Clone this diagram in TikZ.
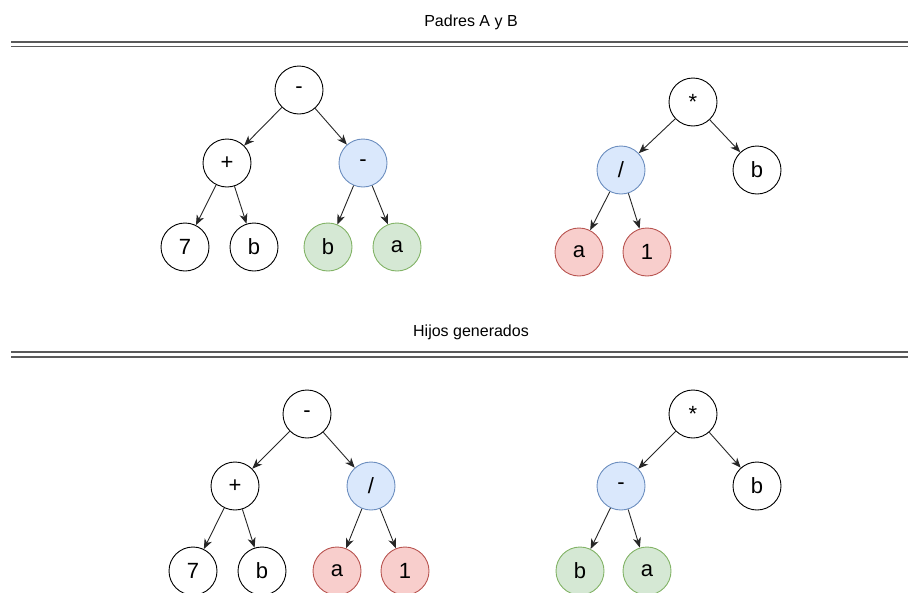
\documentclass[tikz,border=0pt]{standalone}
\usepackage{fontspec}
\setmainfont{Liberation Sans}
\usetikzlibrary{arrows.meta}
\definecolor{bluef}{HTML}{DAE8FC}
\definecolor{blued}{HTML}{6C8EBF}
\definecolor{greenf}{HTML}{D5E8D4}
\definecolor{greend}{HTML}{82B366}
\definecolor{redf}{HTML}{F8CECC}
\definecolor{redd}{HTML}{B85450}
\definecolor{sepc}{HTML}{5A5A5A}
\begin{document}
\begin{tikzpicture}[x=1pt,y=-1pt,
  nd/.style={circle,draw=black,line width=0.9pt,minimum size=48pt,inner sep=0pt,
    font=\fontsize{22}{26}\selectfont,fill=white},
  bl/.style={nd,fill=bluef,draw=blued},
  gr/.style={nd,fill=greenf,draw=greend},
  rd/.style={nd,fill=redf,draw=redd},
  ar/.style={-{Stealth[length=10pt,width=8pt,inset=3pt]},line width=0.9pt,draw=black!85},
  ttl/.style={font=\fontsize{16}{19}\selectfont,anchor=base},
  sep/.style={line width=1.4pt,draw=sepc}]
\useasboundingbox (0,0) rectangle (908,592);

% titles and separators
\node[ttl] (t1) at (471,26) {Padres A y B};
\node[ttl] (t2) at (471,336) {Hijos generados};
\draw[sep] (11,42) -- (908,42);
\draw[sep] (11,46.5) -- (908,46.5);
\draw[sep] (11,352) -- (908,352);
\draw[sep] (11,357) -- (908,357);

% Parent A
\node[nd] (a0) at (299,90) {-};
\node[nd] (a1) at (227,163) {+};
\node[bl] (a2) at (363,163) {-};
\node[nd] (a3) at (185,247) {7};
\node[nd] (a4) at (254,247) {b};
\node[gr] (a5) at (328,247) {b};
\node[gr] (a6) at (397,247) {a};
\draw[ar] (a0) -- (a1);
\draw[ar] (a0) -- (a2);
\draw[ar] (a1) -- (a3);
\draw[ar] (a1) -- (a4);
\draw[ar] (a2) -- (a5);
\draw[ar] (a2) -- (a6);

% Parent B
\node[nd] (b0) at (693,102) {*};
\node[bl] (b1) at (621,170) {/};
\node[nd] (b2) at (757,170) {b};
\node[rd] (b3) at (579,252) {a};
\node[rd] (b4) at (647,252) {1};
\draw[ar] (b0) -- (b1);
\draw[ar] (b0) -- (b2);
\draw[ar] (b1) -- (b3);
\draw[ar] (b1) -- (b4);

% Child 1
\node[nd] (c0) at (307,414) {-};
\node[nd] (c1) at (235,486) {+};
\node[bl] (c2) at (371,486) {/};
\node[nd] (c3) at (193,571) {7};
\node[nd] (c4) at (262,571) {b};
\node[rd] (c5) at (337,571) {a};
\node[rd] (c6) at (405,571) {1};
\draw[ar] (c0) -- (c1);
\draw[ar] (c0) -- (c2);
\draw[ar] (c1) -- (c3);
\draw[ar] (c1) -- (c4);
\draw[ar] (c2) -- (c5);
\draw[ar] (c2) -- (c6);

% Child 2
\node[nd] (d0) at (693,414) {*};
\node[bl] (d1) at (621,486) {-};
\node[nd] (d2) at (757,486) {b};
\node[gr] (d3) at (580,571) {b};
\node[gr] (d4) at (647,571) {a};
\draw[ar] (d0) -- (d1);
\draw[ar] (d0) -- (d2);
\draw[ar] (d1) -- (d3);
\draw[ar] (d1) -- (d4);
\end{tikzpicture}
\end{document}
